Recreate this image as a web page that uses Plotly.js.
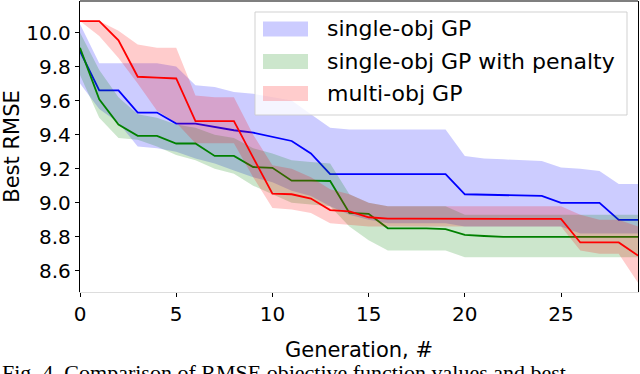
<!DOCTYPE html>
<html>
<head>
<meta charset="utf-8">
<script src="https://cdn.plot.ly/plotly-3.0.1.min.js"></script>
<style>
  html, body { margin: 0; padding: 0; background: #fff; }
  #chart { width: 640px; height: 374px; }
</style>
</head>
<body>
<div id="chart"></div>
<script>
// generations on the x axis
let gens = [0,1,2,3,4,5,6,7,8,9,10,11,12,13,14,15,16,17,18,19,20,21,22,23,24,25,26,27,28,29];

// single-obj GP
let blueMean  = [9.89,9.66,9.66,9.53,9.53,9.465,9.465,9.445,9.426,9.412,9.387,9.363,9.29,9.168,9.168,9.168,9.168,9.168,9.168,9.168,9.05,9.048,9.046,9.045,9.04,9.0,9.0,9.0,8.9,8.9];
let blueUpper = [10.05,9.82,9.82,9.82,9.82,9.80,9.69,9.68,9.65,9.64,9.62,9.60,9.52,9.44,9.43,9.43,9.43,9.43,9.43,9.43,9.275,9.26,9.255,9.25,9.245,9.207,9.2,9.187,9.11,9.11];
let blueLower = [9.70,9.55,9.47,9.33,9.32,9.30,9.26,9.23,9.19,9.15,9.12,9.07,9.04,8.98,8.93,8.90,8.88,8.88,8.88,8.88,8.86,8.86,8.86,8.86,8.86,8.86,8.82,8.82,8.82,8.82];

// single-obj GP with penalty
let greenMean  = [9.91,9.608,9.46,9.393,9.393,9.348,9.348,9.275,9.275,9.21,9.205,9.13,9.13,9.128,8.94,8.935,8.85,8.85,8.85,8.845,8.812,8.805,8.80,8.80,8.80,8.80,8.80,8.80,8.80,8.80];
let greenUpper = [10.0,9.78,9.62,9.52,9.5,9.46,9.44,9.4,9.38,9.32,9.29,9.25,9.24,9.23,9.05,9.0,8.98,8.98,8.98,8.98,8.93,8.93,8.93,8.93,8.93,8.93,8.93,8.93,8.93,8.93];
let greenLower = [9.75,9.50,9.38,9.37,9.33,9.28,9.25,9.20,9.17,9.10,9.05,9.0,8.99,8.98,8.86,8.78,8.72,8.72,8.72,8.72,8.68,8.68,8.68,8.68,8.68,8.68,8.68,8.68,8.68,8.68];

// multi-obj GP
let redMean  = [10.067,10.067,9.954,9.74,9.735,9.73,9.48,9.48,9.48,9.265,9.054,9.05,9.025,8.957,8.95,8.915,8.907,8.907,8.907,8.907,8.907,8.907,8.907,8.907,8.907,8.905,8.767,8.767,8.767,8.69];
let redUpper = [10.067,10.067,10.01,9.93,9.91,9.91,9.63,9.62,9.62,9.40,9.22,9.20,9.15,9.08,9.05,9.0,8.98,8.98,8.98,8.98,8.98,8.98,8.98,8.98,8.98,8.98,8.93,8.90,8.90,8.86];
let redLower = [10.067,9.98,9.85,9.70,9.54,9.47,9.35,9.35,9.35,9.15,8.97,8.96,8.94,8.88,8.87,8.86,8.86,8.86,8.86,8.86,8.86,8.86,8.86,8.86,8.86,8.86,8.72,8.70,8.70,8.53];

let names = ['single-obj GP', 'single-obj GP with penalty', 'multi-obj GP'];
let lineColors = ['rgb(0,0,255)', 'rgb(0,128,0)', 'rgb(255,0,0)'];
let bandColors = ['rgba(0,0,255,0.2)', 'rgba(0,128,0,0.2)', 'rgba(255,0,0,0.2)'];

let means = [blueMean, greenMean, redMean];
let uppers = [blueUpper, greenUpper, redUpper];
let lowers = [blueLower, greenLower, redLower];

let traces = [];
for (let i = 0; i < 3; i++) {
  traces.push({
    x: gens, y: lowers[i], type: 'scatter', mode: 'lines',
    line: {width: 0, color: bandColors[i]}, showlegend: false, hoverinfo: 'skip'
  });
  traces.push({
    x: gens, y: uppers[i], type: 'scatter', mode: 'lines', fill: 'tonexty',
    fillcolor: bandColors[i], line: {width: 0, color: bandColors[i]},
    showlegend: false, hoverinfo: 'skip'
  });
  traces.push({
    x: gens, y: means[i], type: 'scatter', mode: 'lines', name: names[i],
    line: {color: lineColors[i], width: 1.8}, showlegend: false
  });
}

// plot area in pixels: left 80, right 638, top 1, bottom 292
let pw = 558, ph = 291;
function px(x) { return (x - 80) / pw; }
function py(y) { return (292 - y) / ph; }

// legend drawn like the matplotlib one
let shapes = [
  {type: 'line', xref: 'paper', yref: 'paper', x0: 0, x1: 1, y0: 1, y1: 1,
   line: {color: 'black', width: 1.2}},
  {type: 'rect', xref: 'paper', yref: 'paper', layer: 'above',
   x0: px(255), x1: px(627), y0: py(115), y1: py(12),
   fillcolor: 'rgba(255,255,255,0.8)', line: {color: 'rgba(204,204,204,0.9)', width: 1}}
];
let annotations = [];
let rowY = [29, 61.5, 93.5];
for (let i = 0; i < 3; i++) {
  shapes.push({type: 'rect', xref: 'paper', yref: 'paper', layer: 'above',
    x0: px(263), x1: px(308), y0: py(rowY[i] + 7.5), y1: py(rowY[i] - 7.5),
    fillcolor: bandColors[i], line: {width: 0}});
  annotations.push({xref: 'paper', yref: 'paper', x: px(325), y: py(rowY[i]),
    xanchor: 'left', yanchor: 'middle', showarrow: false, text: names[i],
    font: {family: 'DejaVu Sans', size: 22, color: 'black'}});
}
annotations.push({xref: 'paper', yref: 'paper', x: px(0), y: py(358),
  xanchor: 'left', yanchor: 'top', showarrow: false,
  text: 'Fig. 4. Comparison of RMSE objective function values and best',
  font: {family: 'Liberation Serif', size: 22, color: 'black'}});

let layout = {
  width: 640, height: 374,
  margin: {l: 80, r: 2, t: 1, b: 82},
  paper_bgcolor: 'white', plot_bgcolor: 'white',
  font: {family: 'DejaVu Sans', size: 20, color: 'black'},
  showlegend: false,
  xaxis: {
    range: [0, 29], tick0: 0, dtick: 5, ticks: 'outside', ticklen: 4, tickwidth: 1,
    tickcolor: 'black', showgrid: false, zeroline: false,
    showline: true, linecolor: '#dddddd', linewidth: 1,
    tickfont: {size: 20},
    title: {text: 'Generation, #', font: {size: 21}, standoff: 17}
  },
  yaxis: {
    range: [8.476, 10.185], tick0: 8.6, dtick: 0.2, tickformat: '.1f',
    ticks: 'outside', ticklen: 4, tickwidth: 1, tickcolor: 'black',
    showgrid: false, zeroline: false,
    showline: true, mirror: true, linecolor: 'black', linewidth: 1.2,
    tickfont: {size: 20},
    title: {text: 'Best RMSE', font: {size: 21}, standoff: 6}
  },
  shapes: shapes,
  annotations: annotations
};

Plotly.newPlot('chart', traces, layout, {staticPlot: true});
</script>
</body>
</html>
